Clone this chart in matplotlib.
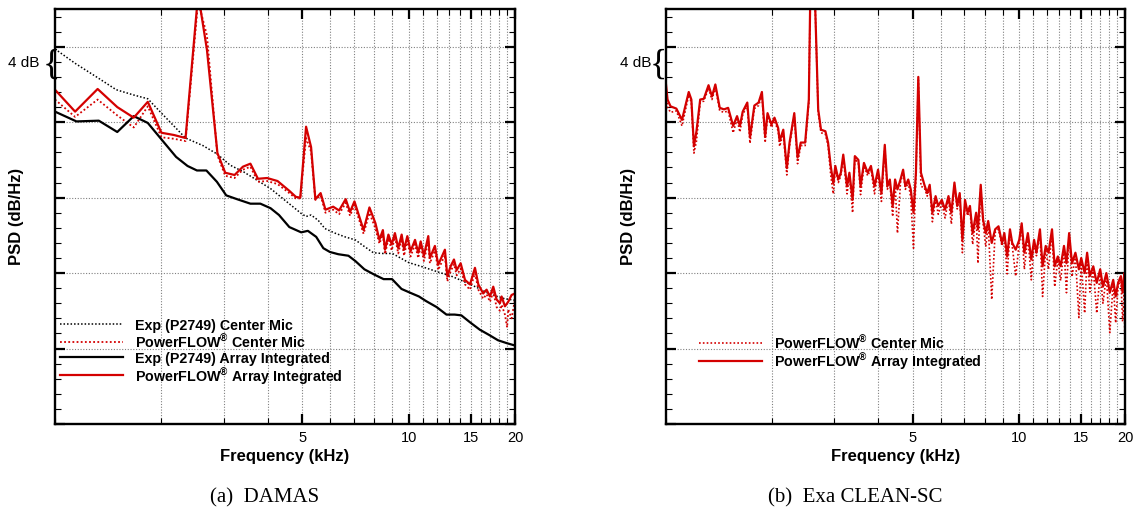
import numpy as np
import matplotlib
matplotlib.use("Agg")
import matplotlib.pyplot as plt
import matplotlib.transforms as mtrans
from matplotlib.ticker import FixedLocator, FixedFormatter, NullFormatter

plt.rcParams['font.family'] = ['Liberation Sans', 'DejaVu Sans']
plt.rcParams['mathtext.fontset'] = 'custom'
plt.rcParams['mathtext.rm'] = 'Liberation Sans:bold'
plt.rcParams['mathtext.bf'] = 'Liberation Sans:bold'
plt.rcParams['mathtext.default'] = 'bf'

# ---------------- data (frequency in kHz, PSD in dB/Hz relative) ----------------
# (a) DAMAS
f_exp_center = [1.00, 1.14, 1.32, 1.49, 1.67, 1.83, 2.00, 2.34, 2.62, 2.87, 3.13, 3.42, 3.73,
                4.07, 4.35, 4.65, 4.97, 5.13, 5.30, 5.55, 5.80, 6.19, 6.61, 7.07, 7.46, 7.95,
                8.40, 9.00, 10.0, 11.0, 12.2, 13.2, 14.3, 15.6, 17.0, 18.7, 20.0]
exp_center = [49.7, 47.8, 45.9, 44.3, 43.6, 43.1, 41.2, 37.9, 36.9, 35.8, 34.3, 33.4, 32.3,
              31.2, 30.1, 29.0, 27.9, 27.5, 27.7, 27.0, 25.9, 25.3, 24.8, 24.4, 23.6, 22.7,
              22.6, 22.6, 21.4, 20.8, 20.1, 19.6, 18.9, 18.1, 17.2, 16.6, 16.4]

f_exp_array = [1.00, 1.15, 1.33, 1.50, 1.67, 1.83, 2.01, 2.20, 2.37, 2.52, 2.68, 2.87, 3.05,
               3.27, 3.57, 3.81, 4.07, 4.30, 4.60, 4.97, 5.19, 5.48, 5.74, 5.99, 6.33, 6.76,
               7.07, 7.50, 8.00, 8.50, 8.98, 9.55, 10.1, 10.7, 11.2, 12.0, 12.8, 13.5, 14.1,
               14.9, 15.9, 16.9, 17.9, 19.0, 20.0]
exp_array = [41.4, 40.1, 40.2, 38.7, 40.8, 39.9, 37.6, 35.4, 34.2, 33.6, 33.6, 32.1, 30.3,
             29.8, 29.2, 29.2, 28.6, 27.7, 26.1, 25.4, 25.6, 24.8, 23.3, 22.8, 22.5, 22.3,
             21.6, 20.5, 19.8, 19.2, 19.2, 17.9, 17.4, 16.9, 16.3, 15.5, 14.5, 14.5, 14.4,
             13.5, 12.5, 11.8, 11.1, 10.7, 10.4]

f_pf_L = [1.00, 1.14, 1.32, 1.50, 1.67, 1.83, 2.00, 2.17, 2.34, 2.54, 2.69, 2.88, 3.03, 3.22,
          3.40, 3.57, 3.75, 3.98, 4.26, 4.60, 4.80, 4.94, 5.13, 5.30, 5.45, 5.64, 5.82, 6.12,
          6.36, 6.64, 6.83, 7.03, 7.46, 7.75, 8.06, 8.27, 8.46, 8.58, 8.77, 8.96, 9.15, 9.35,
          9.56, 9.71, 9.92, 10.13, 10.43, 10.65, 10.82, 11.05, 11.37, 11.49, 11.87, 12.13,
          12.67, 12.87, 13.15, 13.44, 13.68, 14.04, 14.44, 14.92, 15.41, 15.75, 16.26, 16.62,
          16.99, 17.36, 17.74, 18.13, 18.33, 18.73, 19.00, 19.14, 19.56, 20.0]
pf_array_L = [44.3, 41.4, 44.4, 42.0, 40.6, 42.7, 38.6, 38.3, 37.9, 57.0, 49.6, 35.9, 33.3, 33.0,
              34.1, 34.5, 32.5, 32.6, 32.2, 30.9, 30.1, 30.0, 39.4, 36.7, 29.8, 30.6, 28.4, 28.8,
              28.3, 29.8, 28.1, 29.5, 25.7, 28.7, 26.6, 24.4, 25.7, 23.1, 25.1, 23.8, 25.3, 23.3,
              25.1, 23.1, 24.9, 22.9, 24.4, 22.7, 24.2, 22.3, 24.9, 22.0, 23.6, 21.1,
              23.1, 19.6, 20.9, 21.8, 20.4, 21.3, 19.1, 18.5, 20.7, 18.5, 17.3, 17.8,
              16.9, 18.2, 16.5, 16.0, 16.9, 15.6, 16.0, 16.2, 17.1, 17.3]
pf_center_L = [43.0, 40.7, 43.0, 40.9, 39.3, 42.1, 38.0, 37.8, 37.5, 56.0, 51.5, 35.6, 32.9, 32.6,
               33.7, 34.1, 32.1, 32.2, 31.8, 30.6, 29.9, 29.9, 37.9, 36.1, 29.7, 30.3, 28.0, 28.4,
               27.8, 29.3, 27.6, 29.0, 25.2, 28.0, 25.9, 23.9, 25.1, 22.5, 24.6, 23.0, 24.8, 22.6,
               24.5, 22.3, 24.3, 22.2, 23.8, 22.0, 23.6, 21.6, 24.2, 21.3, 23.0, 20.4,
               22.4, 18.9, 20.2, 21.2, 19.7, 20.6, 18.5, 17.8, 20.0, 17.8, 16.6, 17.2,
               16.2, 17.5, 15.5, 15.0, 15.8, 14.5, 12.8, 15.2, 14.0, 16.5]

# (b) Exa CLEAN-SC
f_R = [1.00, 1.01, 1.03, 1.07, 1.11, 1.16, 1.18, 1.20, 1.22, 1.25, 1.28, 1.32, 1.35, 1.38, 1.42,
       1.46, 1.50, 1.55, 1.59, 1.62, 1.65, 1.70, 1.73, 1.78, 1.83, 1.87, 1.91, 1.94, 1.99, 2.03,
       2.08, 2.10, 2.15, 2.20, 2.24, 2.31, 2.36, 2.41, 2.48, 2.54, 2.57, 2.63, 2.70, 2.75, 2.83,
       2.88, 2.93, 2.98, 3.02, 3.08, 3.13, 3.18, 3.26, 3.31, 3.38, 3.43, 3.51, 3.56, 3.64, 3.73,
       3.81, 3.90, 3.99, 4.08, 4.17, 4.24, 4.31, 4.39, 4.46, 4.53, 4.62, 4.70, 4.77, 4.86, 4.94,
       5.03, 5.11, 5.19, 5.28, 5.40, 5.50, 5.59, 5.69, 5.81, 5.91, 6.05, 6.18, 6.32, 6.44, 6.57,
       6.69, 6.80, 6.92, 7.04, 7.16, 7.27, 7.40, 7.57, 7.66, 7.80, 7.92, 8.06, 8.19, 8.38, 8.57,
       8.76, 8.96, 9.10, 9.27, 9.44, 9.58, 9.80, 10.03, 10.19, 10.37, 10.61, 10.85, 11.05, 11.22,
       11.48, 11.68, 11.92, 12.14, 12.42, 12.64, 12.90, 13.14, 13.43, 13.65, 13.89, 14.15, 14.47,
       14.80, 15.03, 15.37, 15.62, 15.90, 16.26, 16.63, 17.01, 17.32, 17.71, 18.11, 18.52, 18.82,
       19.12, 19.47, 19.69, 19.91, 20.0]
pf_array_R = [45.0, 43.0, 42.1, 41.8, 40.3, 44.0, 43.0, 36.8, 38.8, 43.0, 43.1, 44.9, 43.4, 45.0, 41.9,
              41.7, 41.9, 39.5, 40.8, 39.5, 41.4, 42.6, 38.0, 42.2, 42.6, 44.0, 38.1, 41.2, 39.7, 40.6,
              39.2, 37.5, 39.0, 33.9, 37.3, 41.2, 35.3, 37.3, 37.3, 43.0, 60.0, 60.0, 41.7, 39.0, 38.8,
              37.3, 34.2, 31.9, 34.2, 32.4, 33.3, 35.7, 31.5, 33.3, 29.7, 35.5, 35.0, 31.5, 34.6, 33.3,
              34.2, 31.5, 33.7, 30.6, 37.0, 31.5, 32.4, 28.9, 32.4, 31.1, 32.4, 33.7, 31.5, 32.4, 31.1,
              28.0, 33.3, 46.0, 33.3, 31.7, 30.6, 31.7, 28.0, 30.2, 28.9, 29.7, 28.4, 30.2, 28.0, 32.0,
              28.9, 30.6, 24.4, 29.7, 28.0, 28.9, 25.3, 28.0, 25.8, 31.7, 27.1, 25.3, 26.9, 24.0, 25.8,
              26.2, 24.0, 25.3, 22.2, 25.8, 24.0, 23.1, 24.4, 26.6, 22.7, 25.3, 21.8, 24.4, 22.7,
              25.8, 20.9, 23.6, 22.7, 25.8, 20.9, 22.2, 20.9, 23.6, 21.3, 25.3, 21.3, 22.7,
              20.5, 22.0, 20.0, 22.7, 19.6, 20.9, 18.7, 20.5, 18.2, 20.0, 17.4, 19.1, 16.9,
              18.7, 19.6, 17.4, 20.0, 18.5]
pf_center_R = [44.6, 42.0, 41.3, 41.5, 39.5, 43.6, 42.6, 35.9, 37.5, 42.6, 42.8, 44.5, 43.0, 44.6, 41.5,
               41.3, 41.5, 38.6, 40.4, 38.7, 41.0, 42.2, 37.2, 41.8, 42.2, 43.6, 37.3, 40.8, 39.3, 40.2,
               38.8, 36.8, 38.6, 33.0, 36.9, 40.8, 34.5, 36.9, 36.9, 42.6, 60.0, 60.0, 41.3, 38.6, 38.4,
               36.9, 33.0, 30.5, 33.8, 32.0, 32.9, 35.3, 30.5, 32.9, 28.0, 35.1, 34.6, 30.4, 34.2, 32.9,
               33.8, 30.5, 33.3, 29.5, 36.6, 31.1, 32.0, 27.5, 32.0, 25.3, 32.0, 33.3, 31.1, 32.0, 30.0,
               23.3, 32.9, 45.6, 31.5, 31.3, 30.2, 31.3, 26.8, 29.8, 27.8, 29.3, 27.3, 29.8, 26.5, 31.6,
               28.5, 30.2, 22.7, 29.3, 27.6, 28.5, 23.8, 27.6, 21.3, 31.3, 26.7, 23.5, 26.5, 16.5, 25.4,
               25.8, 23.6, 24.9, 19.9, 25.4, 23.6, 19.6, 24.0, 26.2, 20.5, 24.9, 19.1, 24.0, 22.3,
               25.4, 16.9, 23.2, 20.5, 25.4, 18.2, 21.8, 19.0, 23.2, 17.4, 24.9, 19.5, 22.3,
               14.1, 21.6, 14.7, 22.3, 17.5, 20.5, 14.7, 20.1, 16.0, 19.6, 12.1, 18.7, 13.4,
               18.3, 19.2, 13.6, 17.5, 8.1]

# ---------------- axes / tick definitions ----------------
x_major = [5, 10, 15, 20]
x_major_labels = ["5", "10", "15", "20"]
x_minor = [1, 2, 3, 4, 6, 7, 8, 9, 11, 12, 13, 14, 16, 17, 18, 19]
x_grid = [2, 3, 4, 5, 6, 7, 8, 9, 10, 11, 12, 13, 14, 15, 16, 17, 18, 19]
y_major = [0, 10, 20, 30, 40, 50]
y_minor = [2, 4, 6, 8, 12, 14, 16, 18, 22, 24, 26, 28, 32, 34, 36, 38, 42, 44, 46, 48, 52, 54]

RED = '#d40000'
W, H = 1142, 513

fig = plt.figure(figsize=(W / 100, H / 100), dpi=100)
axL = fig.add_axes([55 / W, 89 / H, 460 / W, 415 / H])
axR = fig.add_axes([666 / W, 89 / H, 459 / W, 415 / H])

dot = (0, (1.0, 1.3))


def style(ax, brace_x, text_x):
    ax.set_xscale('log')
    ax.set_xlim(1, 20)
    ax.set_ylim(0, 55)
    ax.xaxis.set_major_locator(FixedLocator(x_major))
    ax.xaxis.set_major_formatter(FixedFormatter(x_major_labels))
    ax.xaxis.set_minor_locator(FixedLocator(x_minor))
    ax.xaxis.set_minor_formatter(NullFormatter())
    ax.yaxis.set_major_locator(FixedLocator(y_major))
    ax.yaxis.set_minor_locator(FixedLocator(y_minor))
    ax.yaxis.set_major_formatter(NullFormatter())
    ax.tick_params(which='both', direction='in', top=True, right=True, colors='black')
    ax.tick_params(which='major', length=7, width=1.6, labelsize=10.5, pad=5)
    ax.tick_params(which='minor', length=4.3, width=0.8)
    for s in ax.spines.values():
        s.set_linewidth(1.7)
    for xv in x_grid:
        ax.axvline(xv, color='#808080', lw=0.8, ls=(0, (1, 1.5)), zorder=0)
    for yv in y_major[1:]:
        ax.axhline(yv, color='#808080', lw=0.8, ls=(0, (1, 1.5)), zorder=0)
    ax.set_xlabel('Frequency (kHz)', fontsize=12, fontweight='bold', va='center')
    ax.xaxis.set_label_coords(0.5, -33 / 415)
    ax.set_ylabel('PSD (dB/Hz)', fontsize=12, fontweight='bold', va='center')
    ax.yaxis.set_label_coords(-38 / 460, 0.5)
    tr = mtrans.blended_transform_factory(ax.transAxes, ax.transData)
    ax.text(brace_x, 47.6, '{', transform=tr, ha='center', va='center',
            fontsize=26, family='Liberation Serif', clip_on=False)
    ax.text(text_x, 47.9, '4 dB', transform=tr, ha='right', va='center',
            fontsize=11, clip_on=False)


style(axL, -0.009, -0.034)
style(axR, -0.016, -0.031)

leg_kw = dict(loc='upper left', frameon=False, borderpad=0, borderaxespad=0,
              handlelength=4.4, handletextpad=0.85, labelspacing=0.0, handleheight=1.22,
              prop={'size': 10.3, 'weight': 'bold'})

# (a)
axL.plot(f_exp_center, exp_center, color='black', lw=1.1, ls=dot, label='Exp (P2749) Center Mic')
axL.plot(f_pf_L, pf_center_L, color=RED, lw=1.3, ls=dot, label='PowerFLOW$^{®}$ Center Mic')
axL.plot(f_exp_array, exp_array, color='black', lw=1.6, label='Exp (P2749) Array Integrated')
axL.plot(f_pf_L, pf_array_L, color=RED, lw=1.6, label='PowerFLOW$^{®}$ Array Integrated')
axL.legend(bbox_to_anchor=(0.011, 0.256), **leg_kw)

# (b)
axR.plot(f_R, pf_center_R, color=RED, lw=1.2, ls=dot, label='PowerFLOW$^{®}$ Center Mic')
axR.plot(f_R, pf_array_R, color=RED, lw=1.6, label='PowerFLOW$^{®}$ Array Integrated')
axR.legend(bbox_to_anchor=(0.072, 0.217), **leg_kw)

fig.text(265 / W, 1 - 498 / H, '(a)  DAMAS', family='Liberation Serif', fontsize=15,
         ha='center', va='center')
fig.text(855 / W, 1 - 498 / H, '(b)  Exa CLEAN-SC', family='Liberation Serif', fontsize=15,
         ha='center', va='center')

fig.savefig('out.png', dpi=100)
